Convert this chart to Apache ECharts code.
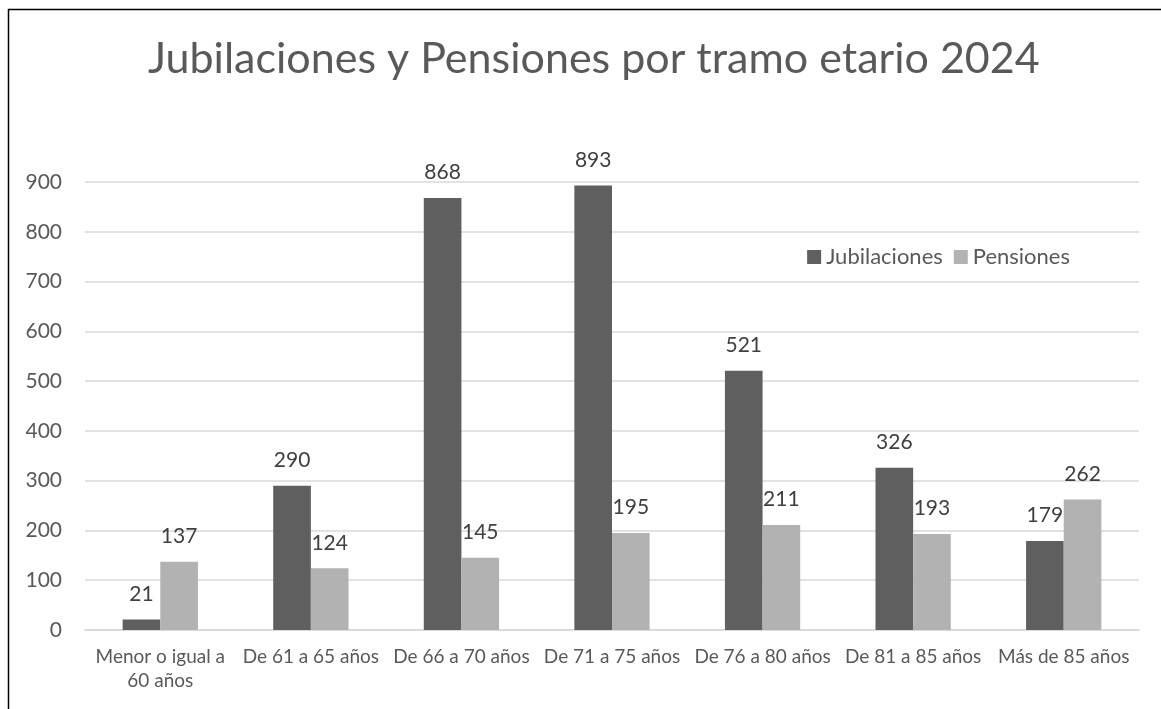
<!DOCTYPE html>
<html><head><meta charset="utf-8">
<script src="https://cdn.jsdelivr.net/npm/echarts@6/dist/echarts.min.js"></script>
<style>html,body{margin:0;padding:0;background:#fff}#c{width:1161px;height:709px}</style>
</head><body><div id="c"></div>
<script>
const titleText = 'Jubilaciones y Pensiones por tramo etario 2024';
const categories = ['Menor o igual a\n60 años','De 61 a 65 años','De 66 a 70 años','De 71 a 75 años','De 76 a 80 años','De 81 a 85 años','Más de 85 años'];
const jubilaciones = [21,290,868,893,521,326,179];
const pensiones = [137,124,145,195,211,193,262];
const seriesNames = ['Jubilaciones','Pensiones'];
const F = 'Lato, "Noto Sans", sans-serif';
const chart = echarts.init(document.getElementById('c'));
const lbl = {show:true, position:'top', distance:15, color:'#404040', fontSize:21, fontFamily:F};
chart.setOption({
  animation:false,
  title:{text:titleText,left:143,top:33,textStyle:{fontFamily:F,fontSize:43,fontWeight:'normal',color:'#595959'}},
  legend:{data:seriesNames,right:86,top:241,itemWidth:14,itemHeight:14,itemGap:11,icon:'rect',textStyle:{fontFamily:F,fontSize:22,color:'#595959',padding:[0,0,0,0]}},
  grid:{left:85,right:22,top:182,bottom:79,containLabel:false},
  xAxis:{type:'category',data:categories,axisTick:{show:false},axisLine:{lineStyle:{color:'#d9d9d9',width:1.5}},
    axisLabel:{fontFamily:F,fontSize:19,color:'#595959',margin:15,lineHeight:24,interval:0}},
  yAxis:{type:'value',min:0,max:900,interval:100,axisLine:{show:false},axisTick:{show:false},
    splitLine:{lineStyle:{color:'#d9d9d9',width:1.5}},
    axisLabel:{fontFamily:F,fontSize:21,color:'#595959',margin:23}},
  series:[
    {name:seriesNames[0],type:'bar',data:jubilaciones,barWidth:'25%',barGap:'0%',itemStyle:{color:'#5f5f5f'},label:lbl},
    {name:seriesNames[1],type:'bar',data:pensiones,barWidth:'25%',itemStyle:{color:'#b2b2b2'},label:lbl}
  ],
  graphic:[
    {type:'line',shape:{x1:8,y1:9.5,x2:1161,y2:9.5},style:{stroke:'#000',lineWidth:1.5}},
    {type:'line',shape:{x1:8.5,y1:9,x2:8.5,y2:709},style:{stroke:'#000',lineWidth:1.5}}
  ]
});
</script></body></html>
